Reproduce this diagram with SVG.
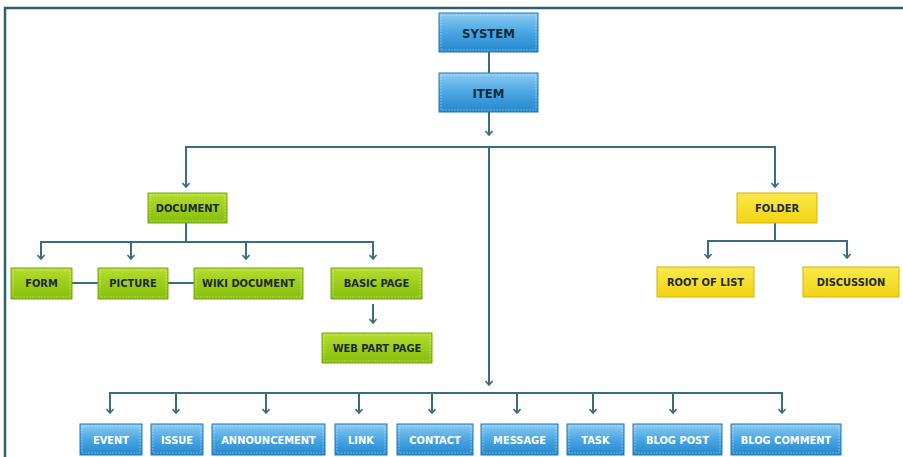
<svg xmlns="http://www.w3.org/2000/svg" width="903" height="457" viewBox="0 0 903 457">
<defs>
<linearGradient id="gBlue" x1="0" y1="0" x2="0" y2="1">
<stop offset="0" stop-color="#8ccbf2"/><stop offset="0.5" stop-color="#4aa6e3"/><stop offset="1" stop-color="#2486cc"/>
</linearGradient>
<linearGradient id="gGreen" x1="0" y1="0" x2="0" y2="1">
<stop offset="0" stop-color="#b5dd2c"/><stop offset="1" stop-color="#86bd0c"/>
</linearGradient>
<linearGradient id="gYellow" x1="0" y1="0" x2="0" y2="1">
<stop offset="0" stop-color="#fbe94a"/><stop offset="1" stop-color="#f1d413"/>
</linearGradient>
<marker id="arr" markerWidth="8" markerHeight="8" refX="6.5" refY="4" orient="auto-start-reverse" markerUnits="userSpaceOnUse" viewBox="0 0 8 8">
<path d="M2.5,0.5 L6.5,4 L2.5,7.5" fill="none" stroke="#3a6d82" stroke-width="1.6"/>
</marker>
<style>
.blue{fill:url(#gBlue);stroke:#1f78b8;stroke-width:1}
.green{fill:url(#gGreen);stroke:#74a80a;stroke-width:1}
.yellow{fill:url(#gYellow);stroke:#d2b40a;stroke-width:1}
.inner{fill:none;stroke:#ffffff;stroke-opacity:0.35;stroke-width:1;stroke-dasharray:2 1}
text{font-family:"DejaVu Sans Condensed","DejaVu Sans","Liberation Sans",sans-serif;font-stretch:condensed;font-weight:bold;font-size:11px;fill:#1d2a30;text-anchor:middle;dominant-baseline:central}
.bt{fill:#ffffff}
.big{font-size:13px;fill:#102a3a}
.conn path,.conn line{fill:none;stroke:#3a6d82;stroke-width:2}
.frame{fill:none;stroke:#2f5d6f;stroke-width:2.5}
</style>
</defs>
<path class="frame" d="M5,457 V8 H903"/>
<g class="conn">
<line x1="489" y1="52" x2="489" y2="73"/>
<line x1="489" y1="112" x2="489" y2="135" marker-end="url(#arr)"/>
<path d="M186,187 V147 H775 V187" marker-start="url(#arr)" marker-end="url(#arr)"/>
<line x1="489" y1="147" x2="489" y2="385" marker-end="url(#arr)"/>
<line x1="186" y1="223" x2="186" y2="242"/>
<path d="M41,259 V242 H373 V259" marker-start="url(#arr)" marker-end="url(#arr)"/>
<line x1="131" y1="242" x2="131" y2="259" marker-end="url(#arr)"/>
<line x1="246" y1="242" x2="246" y2="259" marker-end="url(#arr)"/>
<line x1="72" y1="283" x2="98" y2="283"/>
<line x1="168" y1="283" x2="194" y2="283"/>
<line x1="373" y1="304" x2="373" y2="323" marker-end="url(#arr)"/>
<line x1="775" y1="223" x2="775" y2="241"/>
<path d="M708,258 V241 H847 V258" marker-start="url(#arr)" marker-end="url(#arr)"/>
<path d="M110,413 V393 H782 V413" marker-start="url(#arr)" marker-end="url(#arr)"/>
<line x1="176" y1="393" x2="176" y2="413" marker-end="url(#arr)"/>
<line x1="266" y1="393" x2="266" y2="413" marker-end="url(#arr)"/>
<line x1="359" y1="393" x2="359" y2="413" marker-end="url(#arr)"/>
<line x1="432" y1="393" x2="432" y2="413" marker-end="url(#arr)"/>
<line x1="517" y1="393" x2="517" y2="413" marker-end="url(#arr)"/>
<line x1="593" y1="393" x2="593" y2="413" marker-end="url(#arr)"/>
<line x1="673" y1="393" x2="673" y2="413" marker-end="url(#arr)"/>
</g>
<g id="system"><rect class="blue" x="439" y="13" width="99" height="39"/><rect class="inner" x="441" y="15" width="95" height="35"/><text class="big" x="488.5" y="33">SYSTEM</text></g>
<g id="item"><rect class="blue" x="439" y="73" width="99" height="39"/><rect class="inner" x="441" y="75" width="95" height="35"/><text class="big" x="488.5" y="93">ITEM</text></g>
<g id="document"><rect class="green" x="148" y="193" width="79" height="30"/><rect class="inner" x="150" y="195" width="75" height="26"/><text x="187.5" y="208.5">DOCUMENT</text></g>
<g id="folder"><rect class="yellow" x="737" y="193" width="80" height="30"/><text x="777" y="208.5">FOLDER</text></g>
<g id="form"><rect class="green" x="11" y="268" width="61" height="31"/><rect class="inner" x="13" y="270" width="57" height="27"/><text x="41.5" y="283.5">FORM</text></g>
<g id="picture"><rect class="green" x="98" y="268" width="70" height="31"/><rect class="inner" x="100" y="270" width="66" height="27"/><text x="133" y="283.5">PICTURE</text></g>
<g id="wiki"><rect class="green" x="194" y="268" width="109" height="31"/><rect class="inner" x="196" y="270" width="105" height="27"/><text x="248.5" y="283.5">WIKI DOCUMENT</text></g>
<g id="basicpage"><rect class="green" x="331" y="268" width="91" height="31"/><rect class="inner" x="333" y="270" width="87" height="27"/><text x="376.5" y="283.5">BASIC PAGE</text></g>
<g id="webpartpage"><rect class="green" x="322" y="333" width="110" height="30"/><rect class="inner" x="324" y="335" width="106" height="26"/><text x="377" y="348.5">WEB PART PAGE</text></g>
<g id="rootoflist"><rect class="yellow" x="657" y="267" width="97" height="30"/><text x="705.5" y="282.5">ROOT OF LIST</text></g>
<g id="discussion"><rect class="yellow" x="803" y="267" width="96" height="30"/><text x="851" y="282.5">DISCUSSION</text></g>
<g id="event"><rect class="blue" x="80" y="424" width="62" height="31"/><rect class="inner" x="82" y="426" width="58" height="27"/><text class="bt" x="111" y="440">EVENT</text></g>
<g id="issue"><rect class="blue" x="151" y="424" width="52" height="31"/><rect class="inner" x="153" y="426" width="48" height="27"/><text class="bt" x="177" y="440">ISSUE</text></g>
<g id="announcement"><rect class="blue" x="212" y="424" width="113" height="31"/><rect class="inner" x="214" y="426" width="109" height="27"/><text class="bt" x="268.5" y="440">ANNOUNCEMENT</text></g>
<g id="link"><rect class="blue" x="335" y="424" width="52" height="31"/><rect class="inner" x="337" y="426" width="48" height="27"/><text class="bt" x="361" y="440">LINK</text></g>
<g id="contact"><rect class="blue" x="397" y="424" width="76" height="31"/><rect class="inner" x="399" y="426" width="72" height="27"/><text class="bt" x="435" y="440">CONTACT</text></g>
<g id="message"><rect class="blue" x="481" y="424" width="77" height="31"/><rect class="inner" x="483" y="426" width="73" height="27"/><text class="bt" x="519.5" y="440">MESSAGE</text></g>
<g id="task"><rect class="blue" x="567" y="424" width="57" height="31"/><rect class="inner" x="569" y="426" width="53" height="27"/><text class="bt" x="595.5" y="440">TASK</text></g>
<g id="blogpost"><rect class="blue" x="633" y="424" width="89" height="31"/><rect class="inner" x="635" y="426" width="85" height="27"/><text class="bt" x="677.5" y="440">BLOG POST</text></g>
<g id="blogcomment"><rect class="blue" x="731" y="424" width="110" height="31"/><rect class="inner" x="733" y="426" width="106" height="27"/><text class="bt" x="786" y="440">BLOG COMMENT</text></g>
</svg>
